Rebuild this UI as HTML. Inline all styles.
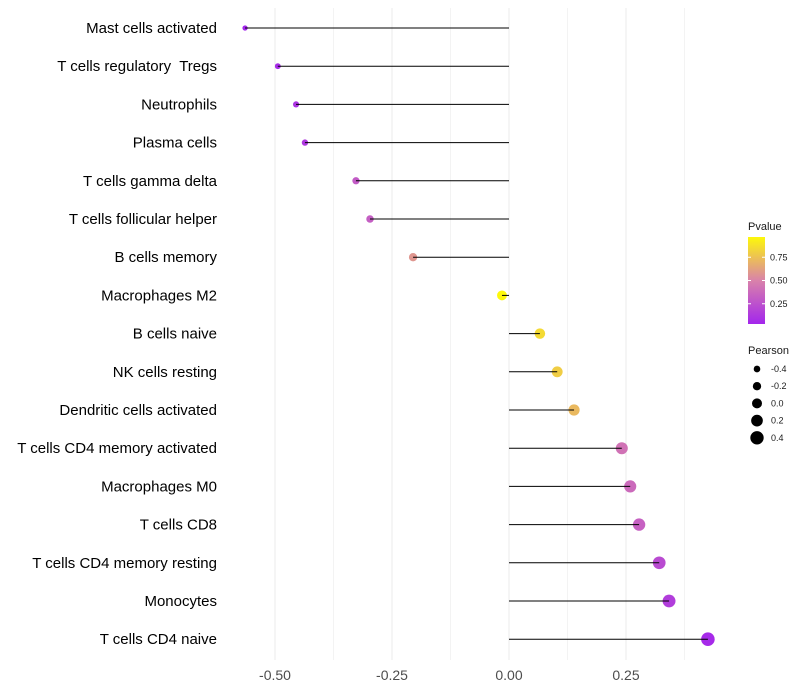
<!DOCTYPE html>
<html><head><meta charset="utf-8"><style>
body{margin:0;background:#fff;font-family:"Liberation Sans",sans-serif}
svg{display:block}
text{white-space:pre}
</style></head><body>
<svg id="c" width="800" height="700"></svg>
<script>
const categories=["Mast cells activated","T cells regulatory  Tregs","Neutrophils","Plasma cells","T cells gamma delta","T cells follicular helper","B cells memory","Macrophages M2","B cells naive","NK cells resting","Dendritic cells activated","T cells CD4 memory activated","Macrophages M0","T cells CD8","T cells CD4 memory resting","Monocytes","T cells CD4 naive"];
const pearson=[-0.564,-0.494,-0.455,-0.436,-0.327,-0.297,-0.205,-0.015,0.066,0.103,0.139,0.241,0.259,0.278,0.321,0.342,0.425];
const pvalue=[0.03,0.06,0.1,0.12,0.3,0.32,0.58,0.97,0.85,0.8,0.72,0.42,0.38,0.33,0.22,0.15,0.05];
const xTicks=[-0.5,-0.25,0,0.25];
const xTickLabels=["-0.50","-0.25","0.00","0.25"];
const pTicks=[0.25,0.5,0.75];
const sizeTicks=[-0.4,-0.2,0,0.2,0.4];
const NS="http://www.w3.org/2000/svg";
const svg=document.getElementById('c');
const X=v=>509+v*468;
const Y=i=>28+i*38.2;
const R=v=>Math.max(1.5,5+v*4.2);
function col(p){
 const stops=[[0,[160,32,240]],[0.5,[217,130,170]],[1,[255,255,0]]];
 let a=stops[0],b=stops[1];if(p>0.5){a=stops[1];b=stops[2];}
 const t=(p-a[0])/(b[0]-a[0]);
 const c=a[1].map((v,k)=>Math.round(v+(b[1][k]-v)*t));
 return `rgb(${c[0]},${c[1]},${c[2]})`;
}
function mk(tag,attrs,parent){const e=document.createElementNS(NS,tag);for(const k in attrs)e.setAttribute(k,attrs[k]);(parent||svg).appendChild(e);return e;}
[-0.5,-0.375,-0.25,-0.125,0,0.125,0.25,0.375].forEach(v=>{
 const l=mk('line',{x1:X(v),x2:X(v),y1:8,y2:660,stroke:'#ebebeb','stroke-width':Number.isInteger(v*4)?1:0.6});
 
 
});
xTicks.forEach((v,i)=>{
 const t=mk('text',{x:X(v),y:680,'text-anchor':'middle','font-size':14,fill:'#4d4d4d'});
 t.textContent=xTickLabels[i];
 
 
});
categories.forEach((c,i)=>{
 const y=Y(i);
 const t=mk('text',{x:217,y:y+5,'text-anchor':'end','font-size':15,fill:'#000'});
 t.textContent=c;
 
 
 const d=mk('circle',{cx:X(pearson[i]),cy:y,r:R(pearson[i]),fill:col(pvalue[i])});
 
 
 const l=mk('line',{x1:X(0),x2:X(pearson[i]),y1:y,y2:y,stroke:'#000','stroke-width':1});
 
 
});
const defs=mk('defs',{});
const g=mk('linearGradient',{id:'pg',x1:0,y1:1,x2:0,y2:0},defs);
[0,0.25,0.5,0.75,1].forEach(o=>mk('stop',{offset:o,'stop-color':col(0.03+o*0.94)},g));
const lt=mk('text',{x:748,y:230,'font-size':11,fill:'#1a1a1a'});lt.textContent='Pvalue';


const cb=mk('rect',{x:748,y:237,width:17,height:87,fill:'url(#pg)'});


const PY=p=>327-p*93;
pTicks.forEach(p=>{
 mk('line',{x1:748,x2:751,y1:PY(p),y2:PY(p),stroke:'#fff'});
 mk('line',{x1:762,x2:765,y1:PY(p),y2:PY(p),stroke:'#fff'});
 const t=mk('text',{x:770,y:PY(p)+3,'font-size':9,fill:'#1a1a1a'});t.textContent=p.toFixed(2);
 
 
});
const st=mk('text',{x:748,y:354,'font-size':11,fill:'#1a1a1a'});st.textContent='Pearson';


sizeTicks.forEach((v,i)=>{
 const y=369+i*17.2;
 const c=mk('circle',{cx:757,cy:y,r:R(v),fill:'#000'});
 
 
 const t=mk('text',{x:771,y:y+3,'font-size':9,fill:'#1a1a1a'});t.textContent=v.toFixed(1);
 
 
});
</script>
</body></html>
